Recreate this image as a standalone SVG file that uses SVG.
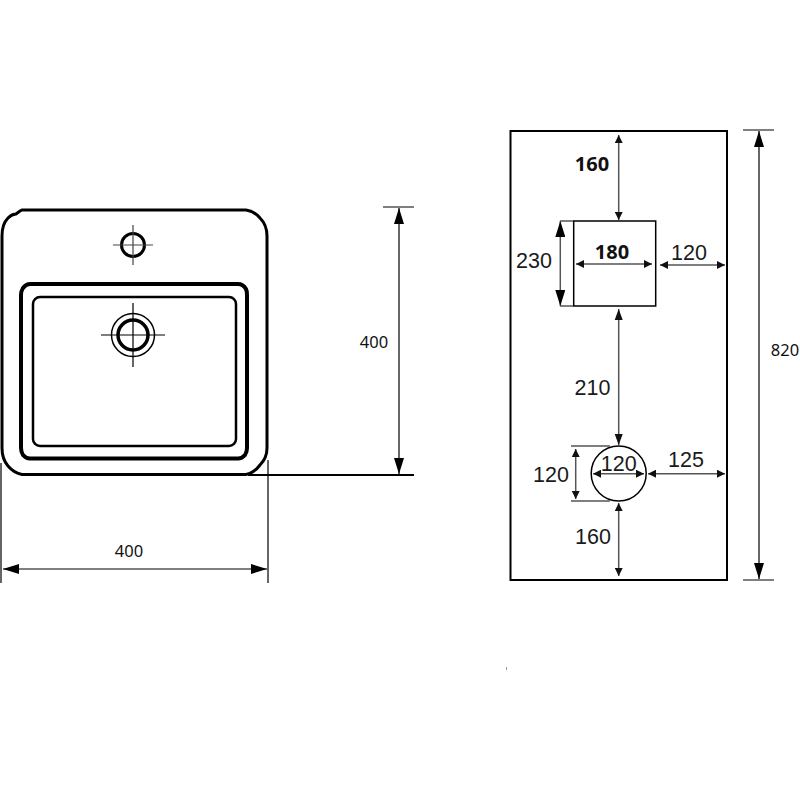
<svg xmlns="http://www.w3.org/2000/svg" width="800" height="800" viewBox="0 0 800 800">
<style>
.t{font-family:"Liberation Sans",Arial,sans-serif;font-size:21.500px;fill:#1a1a1a;text-anchor:middle}
.v{font-family:"Noto Sans","DejaVu Sans",sans-serif;font-size:16.500px;fill:#111;text-anchor:middle}
.b{font-family:"Open Sans","DejaVu Sans",sans-serif;font-size:20px;font-weight:700;fill:#111;text-anchor:middle}
.o{fill:none;stroke:#000}
.d{stroke:#000;stroke-width:1.200;fill:none}
.g{stroke:#555;stroke-width:1.500;fill:none}
.big{marker-start:url(#as);marker-end:url(#ae)}
.mid{marker-start:url(#ms);marker-end:url(#me)}
.sm{marker-start:url(#ss);marker-end:url(#se)}
</style>
<defs>
<marker id="ae" markerUnits="userSpaceOnUse" markerWidth="16" markerHeight="10" refX="16" refY="5" orient="auto"><path d="M0 0L16 5L0 10Z" fill="#000"/></marker>
<marker id="as" markerUnits="userSpaceOnUse" markerWidth="16" markerHeight="10" refX="0" refY="5" orient="auto"><path d="M16 0L0 5L16 10Z" fill="#000"/></marker>
<marker id="me" markerUnits="userSpaceOnUse" markerWidth="11" markerHeight="9" refX="11" refY="4.500" orient="auto"><path d="M0 0.500L11 4.500L0 8.500Z" fill="#111"/></marker>
<marker id="ms" markerUnits="userSpaceOnUse" markerWidth="11" markerHeight="9" refX="0" refY="4.500" orient="auto"><path d="M11 0.500L0 4.500L11 8.500Z" fill="#111"/></marker>
<marker id="se" markerUnits="userSpaceOnUse" markerWidth="8" markerHeight="8" refX="8" refY="4" orient="auto"><path d="M0 0L8 4L0 8Z" fill="#111"/></marker>
<marker id="ss" markerUnits="userSpaceOnUse" markerWidth="8" markerHeight="8" refX="0" refY="4" orient="auto"><path d="M8 0L0 4L8 8Z" fill="#111"/></marker>
</defs>
<g id="basin">
<path class="o" stroke-width="3" d="M22 210H246Q254 211 260 218Q267 225 267 236V448Q267 458 260 465Q254 473 246 474.500H22Q14 473 8 466Q2 459 2 448V236Q2 224 8 218Q12 214 16 214L20 211Z"/>
<path class="o" stroke-width="4" d="M30 284H238Q243 284 246 289Q247 291 247 295V448Q247 452 245 455Q242 458.500 238 458.500H30Q26 458.500 23 455Q21 452 21 448V295Q21 291 23 288Q26 284 30 284Z"/>
<rect class="o" x="33" y="297" width="203" height="149" rx="7" stroke-width="2.500"/>
<circle class="o" cx="133" cy="245" r="11.500" stroke-width="3"/>
<circle class="o" cx="133" cy="335" r="15" stroke-width="3.500"/>
<circle class="o" cx="133" cy="335" r="21.500" stroke-width="1.500"/>
<path fill="none" stroke="#444" stroke-width="1.200" d="M113 245H153M133 225V265"/>
<path class="d" d="M101 335H165M133 303V367"/>
</g>
<g id="panel">
<rect class="o" x="510.500" y="131" width="216.500" height="449" stroke-width="2"/>
<rect class="o" x="573.700" y="221" width="82" height="85" stroke-width="1.500"/>
<circle class="o" cx="618.700" cy="473.500" r="27.500" stroke-width="1.500"/>
</g>
<g id="connectors">
<path class="d" d="M383 207H414M743 130H774M743 580H774M1 463V583M268 460V583"/>
<path stroke="#000" stroke-width="2" fill="none" d="M248 475H414"/>
<path class="d big" d="M399 208V474"/>
<path class="d big" d="M3 569H267"/>
<path class="d big" d="M759 131V579"/>
<path class="g sm" d="M618.700 135V220"/>
<path class="g mid" d="M618.700 309V445"/>
<path class="g sm" d="M618.700 503V576"/>
<path class="g sm" d="M576 264H652"/>
<path class="g sm" d="M660 265H725"/>
<path class="g big" d="M560.300 221V306"/>
<path class="g" d="M560 221H573M560 306H573"/>
<path class="g sm" d="M593 473.700H644"/>
<path class="g sm" d="M648 473.700H725"/>
<path class="g sm" d="M575.700 449V499"/>
<path class="g" d="M571 446H610M571 501H610"/>
</g>
<g id="labels">
<text class="v" x="374" y="348">400</text>
<text class="v" x="129" y="557">400</text>
<text class="v" x="785" y="356">820</text>
<text class="b" x="592" y="171">160</text>
<text class="b" x="612" y="259">180</text>
<text class="t" x="534" y="268">230</text>
<text class="t" x="689" y="260">120</text>
<text class="t" x="592.500" y="395">210</text>
<text class="t" x="618.700" y="471">120</text>
<text class="t" x="551" y="482">120</text>
<text class="t" x="686" y="467">125</text>
<text class="t" x="593" y="544">160</text>
</g>
<rect x="506" y="667" width="1" height="3" fill="#999"/>
</svg>
